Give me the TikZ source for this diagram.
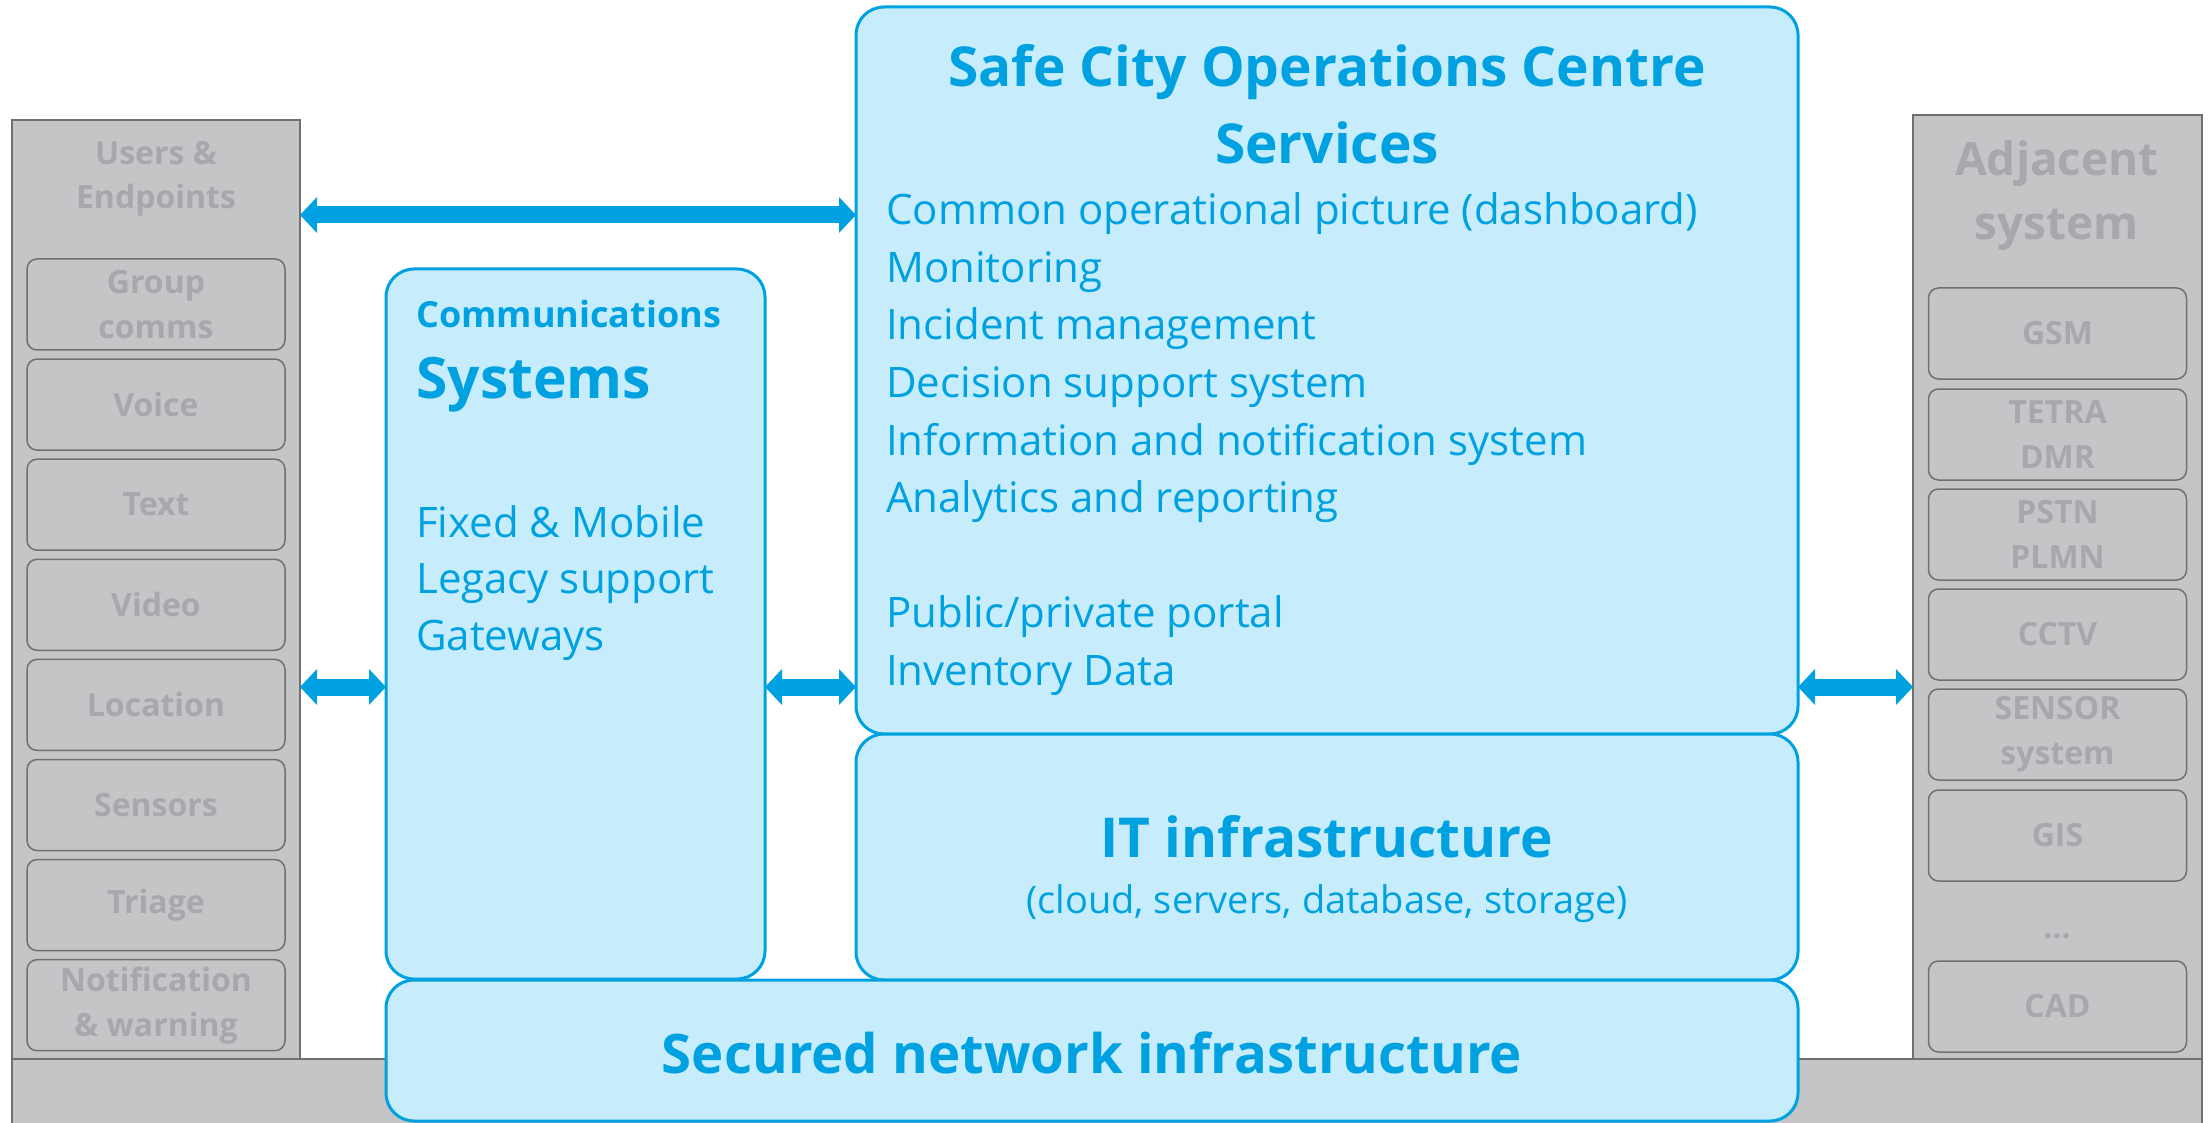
\documentclass[tikz,border=0pt]{standalone}
\usepackage{fontspec}
\setmainfont{Open Sans}
\usetikzlibrary{arrows.meta,positioning}

\definecolor{scblue}{RGB}{0,161,224}
\definecolor{scfill}{RGB}{199,237,252}
\definecolor{scgray}{RGB}{196,197,199}
\definecolor{scbar}{RGB}{191,191,191}
\definecolor{scgraytext}{RGB}{166,168,171}
\definecolor{scgrayline}{RGB}{112,112,112}

\tikzset{
  column/.style={draw=scgrayline, fill=scgray, line width=1.5pt, inner sep=0pt, outer sep=0pt, anchor=north west},
  header/.style={text=scgraytext, align=center, inner sep=0pt, font=\fontsize{32}{44}\selectfont\bfseries},
  endbox/.style={draw=scgrayline, fill=scgray, line width=1.5pt, rounded corners=10pt, minimum width=258pt, minimum height=91pt, inner sep=0pt, align=center, text=scgraytext, font=\fontsize{32}{45}\selectfont\bfseries},
  layer/.style={draw=scblue, fill=scfill, line width=3pt, rounded corners=28pt, inner sep=0pt, outer sep=0pt, anchor=north west},
  bluetext/.style={text=scblue, inner sep=0pt},
  item/.style={bluetext, anchor=base west, font=\fontsize{42}{57}\selectfont},
  bigarrow/.style={draw=scblue, line width=17pt, {Triangle[width=35pt,length=17pt]}-{Triangle[width=35pt,length=17pt]}},
}

\begin{document}
\begin{tikzpicture}[x=1pt,y=-1pt]
\useasboundingbox (0,0) rectangle (2212,1123);

% grey base and the two side columns
\node[column, minimum width=2190pt, minimum height=90pt] (base) at (12,1059) {};
\node[column, minimum width=288pt, minimum height=939pt] (users) at (12,120) {};
\node[column, minimum width=289pt, minimum height=944pt] (adjacent) at (1913,115) {};

\node[header] (usershead) at (156,179) {Users \&\\Endpoints};
\node[header, font=\fontsize{46}{64}\selectfont\bfseries] (adjhead) at (2057,196) {Adjacent\\system};

\foreach \t [count=\i from 0] in {{Group\\comms}, Voice, Text, Video, Location, Sensors, Triage, {Notification\\\& warning}}
  \node[endbox] (ue\i) at (156,{304.5+100.1*\i}) {\t};

\foreach \y/\t [count=\i] in {333.5/GSM, 434.5/{TETRA\\DMR}, 534.5/{PSTN\\PLMN}, 634.5/CCTV, 734.5/{SENSOR\\system}, 835.5/GIS, 1006.5/CAD}
  \node[endbox] (as\i) at (2057.5,\y) {\t};
\node[header, anchor=base] (more) at (2057,938) {...};

% blue layers
\node[layer, minimum width=379pt, minimum height=710pt] (comms) at (386,269) {};
\node[layer, minimum width=942pt, minimum height=727pt] (ops) at (856,7) {};
\node[layer, minimum width=942pt, minimum height=246pt] (itinfra) at (856,734) {};
\node[layer, minimum width=1412pt, minimum height=141pt] (network) at (386,980) {};

% operations centre services
\node[bluetext, align=center, font=\fontsize{55}{77}\selectfont\bfseries] (opstitle) at (1327,104) {Safe City Operations Centre\\Services};
\foreach \t [count=\i from 0] in {Common operational picture (dashboard), Monitoring, Incident management, Decision support system, Information and notification system, Analytics and reporting, {}, Public/private portal, Inventory Data}
  \node[item] (svc\i) at (886,{225+57.5*\i}) {\t};

% communications systems
\node[bluetext, anchor=base west, font=\fontsize{36}{40}\selectfont\bfseries] (commhead) at (416,328) {Communications};
\node[bluetext, anchor=base west, font=\fontsize{57}{60}\selectfont\bfseries] (commsys) at (416,398) {Systems};
\foreach \t [count=\i from 0] in {Fixed \& Mobile, Legacy support, Gateways}
  \node[item] (comm\i) at (416,{537+56.5*\i}) {\t};

% infrastructure
\node[bluetext, anchor=base, font=\fontsize{55}{60}\selectfont\bfseries] (ithead) at (1327,857) {IT infrastructure};
\node[bluetext, anchor=base, font=\fontsize{38}{40}\selectfont] (itsub) at (1327,913) {(cloud, servers, database, storage)};
\node[bluetext, anchor=base, font=\fontsize{54.5}{60}\selectfont\bfseries] (nethead) at (1092,1073) {Secured network infrastructure};

% links
\coordinate (toprow) at (0,215);
\coordinate (midrow) at (0,687);
\draw[bigarrow] (users.east |- toprow) -- (ops.west |- toprow);
\draw[bigarrow] (users.east |- midrow) -- (comms.west |- midrow);
\draw[bigarrow] (comms.east |- midrow) -- (ops.west |- midrow);
\draw[bigarrow] (ops.east |- midrow) -- (adjacent.west |- midrow);
\end{tikzpicture}
\end{document}
